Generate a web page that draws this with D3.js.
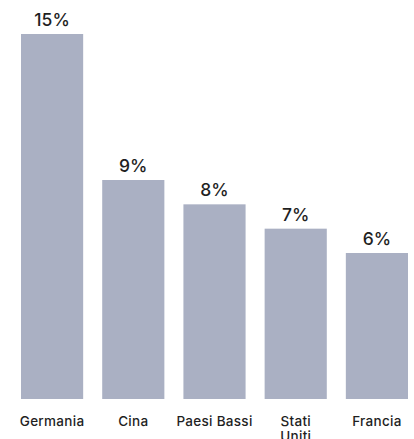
<!DOCTYPE html>
<html>
<head>
<meta charset="utf-8">
<script src="https://cdn.jsdelivr.net/npm/d3@7"></script>
<style>
  body { margin: 0; background: #fff; }
  svg text { font-family: "Inter", "Lato", sans-serif; fill: #1f1f1f; }
</style>
</head>
<body>
<div class="container"></div>
<script>
// data
var categories = ["Germania", "Cina", "Paesi Bassi", "Stati Uniti", "Francia"];
var tickLabels = ["Germania", "Cina", "Paesi Bassi", "Stati\nUniti", "Francia"];
var values = [15, 9, 8, 7, 6];

var width = 414, height = 439;
var margin = {left: 21, right: 6, top: 34, bottom: 40};

var svg = d3.select(".container").append("svg")
    .attr("width", width).attr("height", height);

var x = d3.scaleBand()
    .domain(categories)
    .range([margin.left, width - margin.right])
    .paddingInner(19 / 81)
    .paddingOuter(0);

var y = d3.scaleLinear()
    .domain([0, d3.max(values)])
    .range([height - margin.bottom, margin.top]);

var g = svg.append("g");

g.selectAll("rect")
    .data(values)
    .enter().append("rect")
    .attr("x", function(d, i) { return x(categories[i]); })
    .attr("y", function(d) { return y(d); })
    .attr("width", x.bandwidth())
    .attr("height", function(d) { return y(0) - y(d); })
    .attr("fill", "#aab0c3");

// value labels
g.selectAll(".val")
    .data(values)
    .enter().append("text")
    .attr("class", "val")
    .attr("x", function(d, i) { return x(categories[i]) + x.bandwidth() / 2; })
    .attr("y", function(d) { return y(d) - 8; })
    .attr("text-anchor", "middle")
    .attr("font-size", "17.5px")
    .attr("font-weight", 500)
    .text(function(d) { return d + "%"; });

// category axis (no line, no ticks)
var xAxis = d3.axisBottom(x).tickSize(0).tickPadding(0).tickFormat("");
var ax = svg.append("g")
    .attr("transform", "translate(0," + (height - margin.bottom) + ")")
    .call(xAxis);
ax.select(".domain").remove();

ax.selectAll(".tick").each(function(d, i) {
    var t = d3.select(this).append("text")
        .attr("y", 27)
        .attr("x", 0)
        .attr("text-anchor", "middle")
        .attr("font-size", "13.5px")
        .attr("font-weight", 500)
        .attr("letter-spacing", "0.3px");
    tickLabels[i].split("\n").forEach(function(line, k) {
        t.append("tspan").attr("x", 0).attr("dy", k == 0 ? 0 : 15).text(line);
    });
});
</script>
</body>
</html>
